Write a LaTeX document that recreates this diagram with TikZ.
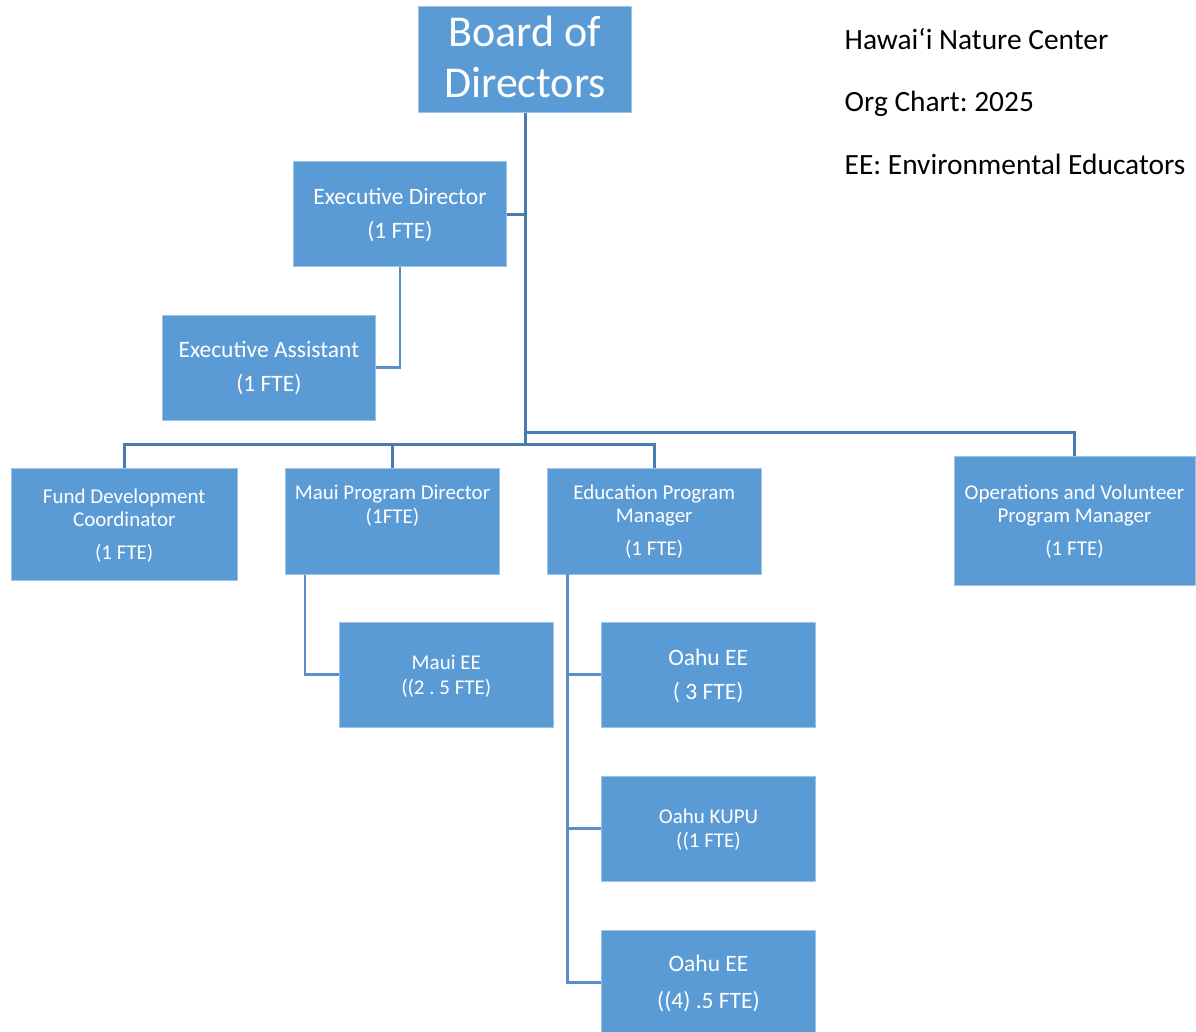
\documentclass[tikz,border=0pt]{standalone}
\usepackage{fontspec}
\setmainfont{Carlito}
\frenchspacing
\definecolor{boxfill}{HTML}{5B9BD5}
\definecolor{boxedge}{HTML}{9DC3E6}
\definecolor{lineA}{HTML}{4A7BB0}
\definecolor{lineB}{HTML}{5A8FCC}
\tikzset{
 orgbox/.style={draw=boxedge, line width=0.8pt, fill=boxfill, text=white, align=center, inner sep=0pt, text depth=0pt},
 conA/.style={draw=lineA, line width=3pt},
 conB/.style={draw=lineB, line width=2.5pt},
 note/.style={anchor=base west, inner sep=0pt, font=\fontsize{29.4}{35}\selectfont}
}
\begin{document}
\begin{tikzpicture}[x=1pt,y=-1pt]
\useasboundingbox (0,0) rectangle (1196,1031);
\clip (0,0) rectangle (1196,1031);
\coordinate (busy) at (0,444);
\coordinate (upy) at (0,432.8);
\coordinate (mx) at (305,0);
\coordinate (ex) at (567.5,0);

% boxes
\node[orgbox, minimum width=213.4pt, minimum height=105.6pt, text height=76.4pt, font=\fontsize{44}{51}\selectfont] (bod) at (525,59.5) {Board of\\Directors};
\node[orgbox, minimum width=213.4pt, minimum height=105pt, text height=48.2pt, font=\fontsize{23.5}{34}\selectfont] (ed) at (399.9,214.2) {Executive Director\\(1 FTE)};
\node[orgbox, minimum width=213.7pt, minimum height=105pt, text height=48.4pt, font=\fontsize{23.5}{34}\selectfont] (ea) at (268.85,367.5) {Executive Assistant\\(1 FTE)};
\node[orgbox, minimum width=225.5pt, minimum height=112.4pt, text height=69.6pt, font=\fontsize{21}{22.7}\selectfont] (fund) at (124.25,524.5) {Fund Development\\Coordinator\\[10.6pt](1 FTE)};
\node[orgbox, minimum width=214pt, minimum height=106pt, text height=3.4pt, font=\fontsize{21}{24}\selectfont] (mpd) at (392.5,521.3) {Maui Program Director\\(1FTE)};
\node[orgbox, minimum width=213.5pt, minimum height=105.7pt, text height=67.6pt, font=\fontsize{21}{23}\selectfont] (edu) at (654.25,521.2) {Education Program\\Manager\\[10pt](1 FTE)};
\node[orgbox, minimum width=241pt, minimum height=129pt, text height=69pt, font=\fontsize{21}{23}\selectfont] (ops) at (1074.5,520.5) {Operations and Volunteer\\Program Manager\\[10pt](1 FTE)};
\node[orgbox, minimum width=213.4pt, minimum height=104.7pt, text height=38.8pt, font=\fontsize{21}{24.7}\selectfont] (mee) at (446.3,674.6) {Maui EE\\((2 . 5 FTE)};
\node[orgbox, minimum width=213.6pt, minimum height=104.7pt, text height=49.4pt, font=\fontsize{23.5}{34}\selectfont] (oee1) at (708.2,674.6) {Oahu EE\\( 3 FTE)};
\node[orgbox, minimum width=213.6pt, minimum height=105pt, text height=37pt, font=\fontsize{21}{24}\selectfont] (kupu) at (708.5,828.5) {Oahu KUPU\\((1 FTE)};
\node[orgbox, minimum width=213.6pt, minimum height=105pt, text height=51pt, font=\fontsize{23.5}{36.7}\selectfont] (oee2) at (708.5,982.5) {Oahu EE\\((4) .5 FTE)};

% connectors
\draw[conA] (bod.south) -- (bod.south |- busy);
\draw[conA] (ed.east) -- (bod.south |- ed.east);
\draw[conB] (ed.south) |- (ea.east);
\draw[conA] (fund.north) -- (fund.north |- busy) -- (edu.north |- busy) -- (edu.north);
\draw[conA] (mpd.north) -- (mpd.north |- busy);
\draw[conA] (bod.south |- upy) -- (ops.north |- upy) -- (ops.north);
\draw[conB] (mpd.south -| mx) |- (mee.west);
\draw[conB] (edu.south -| ex) |- (oee2.west);
\draw[conB] (ex |- oee1.west) -- (oee1.west);
\draw[conB] (ex |- kupu.west) -- (kupu.west);

% notes
\node[note] (t1) at (844.5,49.3) {Hawai‘i Nature Center};
\node[note] (t2) at (844.5,111.8) {Org Chart: 2025};
\node[note] (t3) at (844.5,174.3) {EE: Environmental Educators};
\end{tikzpicture}
\end{document}
